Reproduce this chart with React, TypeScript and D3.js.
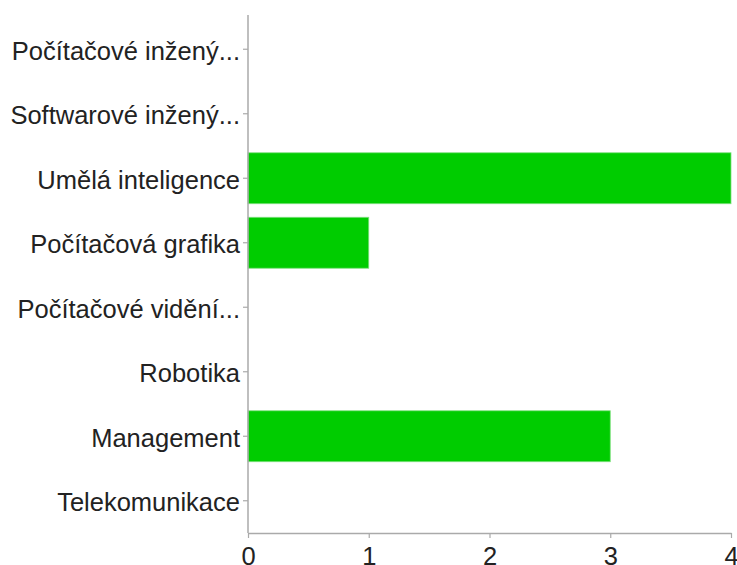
import React, { useEffect, useRef } from "react";
import * as d3 from "d3";

// categories and answer counts
const categories = [
  "Počítačové inžený...",
  "Softwarové inžený...",
  "Umělá inteligence",
  "Počítačová grafika",
  "Počítačové vidění...",
  "Robotika",
  "Management",
  "Telekomunikace",
];
const counts = [0, 0, 4, 1, 0, 0, 3, 0];
const xTicks = [0, 1, 2, 3, 4];

const W = 737, H = 565;

export default function App() {
  const ref = useRef<SVGSVGElement>(null);

  useEffect(() => {
    const svg = d3.select(ref.current);
    svg.selectAll("*").remove();

    const x = d3.scaleLinear().domain([0, 4]).range([248, 731]);
    const y = d3.scaleBand().domain(categories).range([17, 533]).paddingInner(0.21).paddingOuter(0.105);
    const axisColor = "#aaaaaa";
    const font = "'Liberation Sans', Arial, Helvetica, sans-serif";

    svg.append("g")
      .selectAll("rect")
      .data(categories)
      .enter()
      .append("rect")
      .attr("x", x(0))
      .attr("y", (d) => y(d)!)
      .attr("width", (d, i) => x(counts[i]) - x(0))
      .attr("height", y.bandwidth())
      .attr("fill", "#00cc00")
      .attr("stroke", "#7fe07f")
      .attr("stroke-width", (d, i) => (counts[i] > 0 ? 0.8 : 0));

    // y axis
    const yAxis = d3.axisLeft(y).tickSize(5).tickPadding(3).tickSizeOuter(0);
    const gy = svg.append("g").attr("transform", `translate(${x(0)},0)`).call(yAxis);
    gy.select(".domain").remove();
    gy.selectAll("line").attr("stroke", axisColor).attr("stroke-width", 1.2);
    gy.selectAll("text")
      .attr("fill", "#222")
      .attr("dy", "0.42em")
      .style("font-family", font)
      .style("font-size", "25.5px");
    svg.append("line")
      .attr("x1", x(0)).attr("x2", x(0))
      .attr("y1", 15).attr("y2", 533)
      .attr("stroke", axisColor).attr("stroke-width", 1.5);

    // x axis
    const xAxis = d3.axisBottom(x).tickValues(xTicks).tickFormat((d) => String(d)).tickSize(5).tickPadding(9).tickSizeOuter(0);
    const gx = svg.append("g").attr("transform", "translate(0,533)").call(xAxis);
    gx.select(".domain").attr("stroke", axisColor).attr("stroke-width", 1.5);
    gx.selectAll("line").attr("stroke", axisColor).attr("stroke-width", 1.2);
    gx.selectAll("text")
      .attr("fill", "#222")
      .style("font-family", font)
      .style("font-size", "25.5px");
  }, []);

  return (
    <svg
      ref={ref}
      width={W}
      height={H}
      style={{ position: "absolute", left: 0, top: 0, background: "#fff" }}
    />
  );
}
